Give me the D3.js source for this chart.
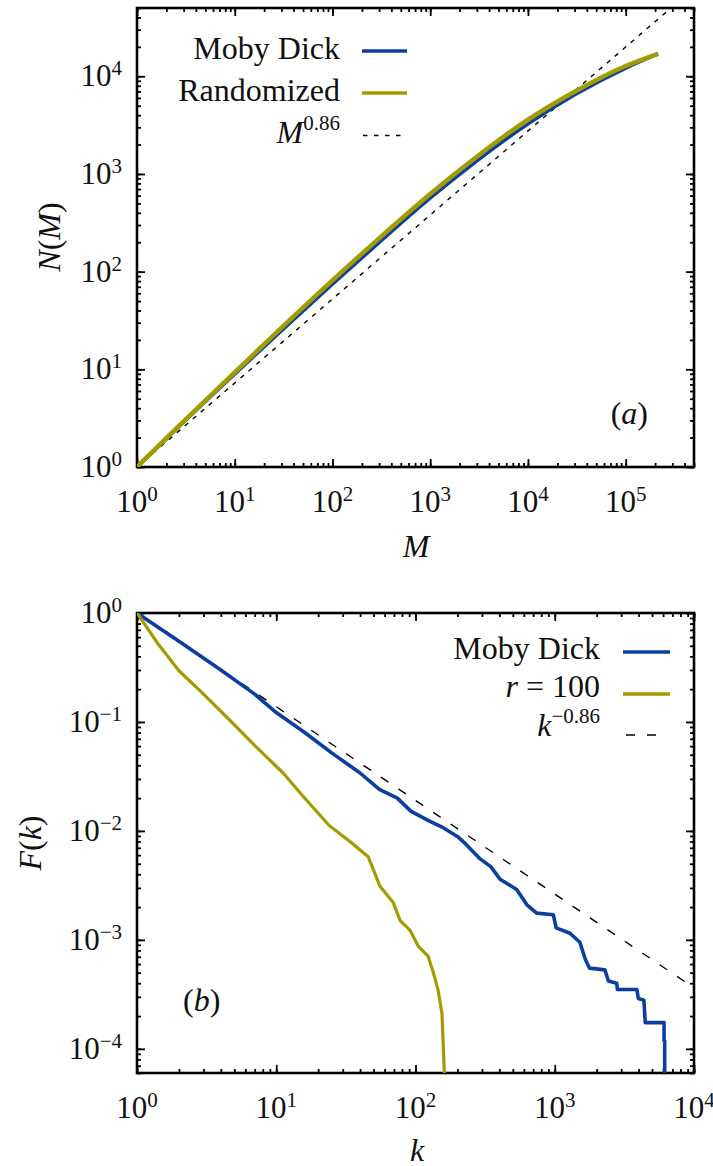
<!DOCTYPE html>
<html>
<head>
<meta charset="utf-8">
<script src="https://cdn.jsdelivr.net/npm/d3@7"></script>
<style>
  body { margin: 0; background: #fff; }
  svg text { font-family: "Liberation Serif", "DejaVu Serif", serif; fill: #111; }
</style>
</head>
<body>
<svg id="chart" width="713" height="1166" font-family="Liberation Serif"></svg>
<script>
// panel (a): number of distinct words N(M) after M words
const wordsM = [1, 3, 10, 30, 100, 300, 1000, 3000, 10000, 30000, 100000, 214000];
const mobyN  = [1, 2.9, 9.0, 25, 75, 200, 570, 1370, 3280, 6500, 12200, 17000];
const randN  = [1, 2.93, 9.33, 26.5, 81.3, 219, 624, 1503, 3589, 6950, 12735, 17000];
const powM = [1, 500000];
const powN = [1, 79600];

// panel (b): fraction of words F(k) with frequency >= k
const mobyK = [1, 2, 4, 7, 10, 16, 25, 40, 55, 74, 93, 126, 158, 200, 229, 288, 347, 405, 533, 631, 741, 977, 1023,
               1288, 1514, 1660, 1778, 2291, 2427, 2786, 2818, 3890, 3981, 4365, 4467, 6095, 6095, 6160, 6160];
const mobyF = [1, 0.55, 0.30, 0.180, 0.122, 0.080, 0.052, 0.034, 0.024, 0.020, 0.0151, 0.0123, 0.0107, 0.0089,
               0.0076, 0.0056, 0.0047, 0.0036, 0.0029, 0.0021, 0.00176, 0.0017, 0.00129, 0.00115, 0.00095, 0.00066,
               0.00055, 0.00053, 0.00042, 0.0004, 0.00035, 0.00035, 0.00029, 0.00028, 0.000174, 0.000174,
               0.000118, 0.000118, 0.000059];
const randK = [1, 1.41, 2, 2.82, 4.53, 7.08, 11.2, 15.8, 24, 34.7, 45.7, 55.6, 69.2, 77.6, 91.2, 105, 123,
               135, 145, 155, 158, 162];
const randF = [1, 0.525, 0.295, 0.195, 0.107, 0.060, 0.034, 0.0204, 0.0112, 0.0078, 0.0058, 0.0031,
               0.0022, 0.0015, 0.00123, 0.00087, 0.00071, 0.00049, 0.00035, 0.00021, 0.000112, 0.00005];
const powK = [1, 10000];
const powF = [1, 0.000363];

// tick labels
const decadesAx = [1, 10, 100, 1000, 10000, 100000];
const decadesAy = [1, 10, 100, 1000, 10000];
const decadesBx = [1, 10, 100, 1000, 10000];
const decadesBy = [0.0001, 0.001, 0.01, 0.1, 1];

const blue = "#0b3f9f";
const olive = "#a29c00";

const svg = d3.select("#chart");

// superscript label 10^n
const expLabel = (sel, v) => {
    const e = Math.round(Math.log10(v));
    sel.append("tspan").text("10");
    sel.append("tspan").attr("dy", -11).attr("font-size", 21).text(e < 0 ? "\u2212" + (-e) : e);
};

// frame, inward log ticks on all four sides, tick labels
const drawFrame = (g, x, y, xDec, yDec, id) => {
    const [x0, x1] = x.range();
    const [y0, y1] = y.range(); // y0 = bottom
    const minX = x.ticks();
    const minY = y.ticks();

    const addAxis = (axis, tr) => {
        g.append("g").attr("transform", tr).call(axis)
            .call(a => a.select(".domain").remove())
            .call(a => a.selectAll("line").attr("stroke", "#000").attr("stroke-width", 1.8));
    };
    [[d3.axisBottom, `translate(0,${y0})`], [d3.axisTop, `translate(0,${y1})`]].forEach(s => {
        addAxis(s[0](x).tickValues(minX).tickSize(-4).tickFormat(""), s[1]);
        addAxis(s[0](x).tickValues(xDec).tickSize(-8).tickFormat(""), s[1]);
    });
    [[d3.axisLeft, `translate(${x0},0)`], [d3.axisRight, `translate(${x1},0)`]].forEach(s => {
        addAxis(s[0](y).tickValues(minY).tickSize(-4).tickFormat(""), s[1]);
        addAxis(s[0](y).tickValues(yDec).tickSize(-8).tickFormat(""), s[1]);
    });

    g.append("rect").attr("x", x0).attr("y", y1).attr("width", x1 - x0).attr("height", y0 - y1)
        .attr("fill", "none").attr("stroke", "#000").attr("stroke-width", 2.6);

    g.selectAll(".xl").data(xDec).enter().append("text")
        .attr("x", d => x(d)).attr("y", y0 + 45).attr("text-anchor", "middle").attr("font-size", 31)
        .each(function (d) { expLabel(d3.select(this), d); });
    g.selectAll(".yl").data(yDec).enter().append("text")
        .attr("x", x0 - 15).attr("y", d => y(d) + 10).attr("text-anchor", "end").attr("font-size", 31)
        .each(function (d) { expLabel(d3.select(this), d); });

    g.append("clipPath").attr("id", id).append("rect")
        .attr("x", x0).attr("y", y1).attr("width", x1 - x0).attr("height", y0 - y1);
};

// text made of parts: [text, italic?, superscript?]
const mathText = (g, xp, yp, parts, anchor, size) => {
    const t = g.append("text").attr("x", xp).attr("y", yp).attr("text-anchor", anchor).attr("font-size", size);
    let up = false;
    parts.forEach(p => {
        const s = t.append("tspan").text(p[0]);
        if (p[1]) s.attr("font-style", "italic");
        if (p[2] && !up) { s.attr("dy", -13).attr("font-size", 21); up = true; }
        else if (!p[2] && up) { s.attr("dy", 13); up = false; }
    });
    return t;
};

const legendRow = (g, xr, yb, parts, ly, lx1, lx2, color, w, dash) => {
    mathText(g, xr, yb, parts, "end", 32);
    g.append("line").attr("x1", lx1).attr("x2", lx2).attr("y1", ly).attr("y2", ly)
        .attr("stroke", color).attr("stroke-width", w).attr("stroke-dasharray", dash);
};

// ---------------- panel (a)
const gA = svg.append("g");
const xA = d3.scaleLog().domain([1, 500000]).range([137, 694]);
const yA = d3.scaleLog().domain([1, 50000]).range([467, 8]);
drawFrame(gA, xA, yA, decadesAx, decadesAy, "clipA");

const lineA = d3.line().x(d => xA(d[0])).y(d => yA(d[1])).curve(d3.curveMonotoneX);
const plotA = gA.append("g").attr("clip-path", "url(#clipA)");
plotA.append("path").datum(d3.zip(powM, powN)).attr("d", lineA)
    .attr("fill", "none").attr("stroke", "#000").attr("stroke-width", 1.4).attr("stroke-dasharray", "4.5,6");
plotA.append("path").datum(d3.zip(wordsM, mobyN)).attr("d", lineA)
    .attr("fill", "none").attr("stroke", blue).attr("stroke-width", 4);
plotA.append("path").datum(d3.zip(wordsM, randN)).attr("d", lineA)
    .attr("fill", "none").attr("stroke", olive).attr("stroke-width", 4.5);

legendRow(gA, 340, 59, [["Moby Dick"]], 51, 362, 407, blue, 3.5, null);
legendRow(gA, 340, 101, [["Randomized"]], 93, 362, 407, olive, 3.5, null);
legendRow(gA, 340, 143, [["M", true], ["0.86", false, true]], 135.5, 363, 405, "#000", 1.5, "4.5,6.5");

mathText(gA, 648, 424, [["("], ["a", true], [")"]], "end", 32);
mathText(gA, 416, 557, [["M", true]], "middle", 32);
mathText(gA, 0, 0, [["N", true], ["("], ["M", true], [")"]], "middle", 32)
    .attr("transform", "translate(60,237) rotate(-90)");

// ---------------- panel (b)
const gB = svg.append("g");
const xB = d3.scaleLog().domain([1, 10000]).range([137, 694]);
const yB = d3.scaleLog().domain([0.00006, 1]).range([1073, 613]);
drawFrame(gB, xB, yB, decadesBx, decadesBy, "clipB");

const lineB = d3.line().x(d => xB(d[0])).y(d => yB(d[1]));
const plotB = gB.append("g").attr("clip-path", "url(#clipB)");
plotB.append("path").datum(d3.zip(powK, powF)).attr("d", lineB)
    .attr("fill", "none").attr("stroke", "#000").attr("stroke-width", 1.4).attr("stroke-dasharray", "9,12");
plotB.append("path").datum(d3.zip(mobyK, mobyF)).attr("d", lineB)
    .attr("fill", "none").attr("stroke", blue).attr("stroke-width", 3.6).attr("stroke-linejoin", "round");
plotB.append("path").datum(d3.zip(randK, randF)).attr("d", lineB)
    .attr("fill", "none").attr("stroke", olive).attr("stroke-width", 3.2).attr("stroke-linejoin", "round");

legendRow(gB, 600, 659, [["Moby Dick"]], 652, 623, 670, blue, 3.5, null);
legendRow(gB, 600, 697, [["r", true], [" = 100"]], 694, 623, 670, olive, 3.5, null);
legendRow(gB, 600, 736, [["k", true], ["\u22120.86", false, true]], 735, 626, 657, "#000", 1.5, "9,12");

mathText(gB, 183, 1011, [["("], ["b", true], [")"]], "start", 32);
mathText(gB, 417, 1161, [["k", true]], "middle", 32);
mathText(gB, 0, 0, [["F", true], ["("], ["k", true], [")"]], "middle", 32)
    .attr("transform", "translate(41,843) rotate(-90)");
</script>
</body>
</html>
